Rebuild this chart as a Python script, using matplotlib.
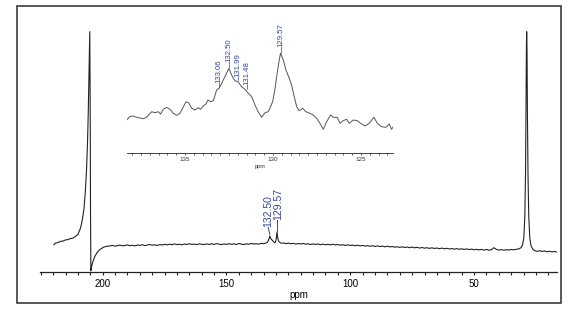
import matplotlib
matplotlib.use("Agg")
import matplotlib.pyplot as plt
from matplotlib.patches import Rectangle

plt.rcParams['font.family'] = ['Liberation Sans', 'DejaVu Sans']

# ---------------- main spectrum (ppm, intensity) ----------------
left_ppm = [219.7, 219, 218, 217, 216, 215, 214, 213, 212, 211, 210, 209.5, 209, 208.5, 208,
            207.5, 207, 206.5, 206.1, 205.8, 205.5, 205.2, 205.0, 204.9, 204.75, 204.4, 203.8,
            203.2, 202.3, 201.2, 199.8, 198.5]
left_int = [27.0, 28.6, 29.1, 30.4, 30.6, 31.8, 32.1, 33.2, 33.6, 35.2, 37.3, 40.2, 43.3, 48.2, 55.0,
            64.0, 80.0, 102.0, 130.0, 160.0, 200.0, 240.0, 150.0, 60.0, 1.0, 6.0, 11.0,
            15.0, 19.0, 22.0, 24.3, 25.4]

base1_ppm = list(range(197, 134, -1))
base1_int = [25.8, 26.3, 25.5, 26.0, 26.6, 25.9, 26.2, 26.8, 26.0, 26.4, 25.8, 26.7, 26.3, 27.0,
             26.1, 26.6, 27.2, 26.5, 26.9, 26.2, 27.1, 26.7, 27.4, 26.8, 27.5, 27.0, 27.8, 27.1,
             27.4, 26.9, 27.7, 27.2, 28.0, 27.3, 27.6, 27.0, 27.9, 27.4, 27.1, 27.8, 27.2, 27.9,
             27.3, 28.1, 27.5, 27.0, 27.8, 27.3, 28.0, 27.4, 27.9, 27.2, 28.2, 27.6, 27.1, 27.9,
             27.4, 28.3, 27.7, 28.0, 27.5, 28.4, 28.0]

arom_ppm = [134.5, 134.0, 133.5, 133.1, 132.8, 132.5, 132.2, 131.9, 131.5, 131.0, 130.6, 130.2,
            129.9, 129.57, 129.3, 129.0, 128.6, 128.2, 127.7, 127.0]
arom_int = [28.3, 28.8, 29.5, 31.0, 33.0, 35.7, 33.8, 32.5, 31.5, 30.0, 28.9, 29.6,
            33.0, 39.7, 34.0, 31.0, 29.5, 28.9, 28.5, 28.8]

base2_ppm = list(range(126, 32, -1))
base2_int = [28.0, 28.6, 27.9, 28.4, 27.6, 28.2, 27.7, 28.3, 27.5, 27.9, 27.2, 27.8, 27.3, 27.7,
             27.0, 27.6, 26.9, 27.4, 26.8, 27.5, 26.7, 27.2, 26.5, 27.0, 26.3, 26.9, 26.2, 26.6,
             25.9, 26.5, 25.8, 26.3, 25.6, 26.1, 25.4, 26.0, 25.3, 25.8, 25.1, 25.6, 24.9, 25.5,
             24.8, 25.2, 24.5, 25.0, 24.3, 24.9, 24.2, 24.7, 24.0, 24.6, 23.9, 24.4, 23.6, 24.2,
             23.5, 24.0, 23.3, 23.9, 23.2, 23.7, 23.0, 23.6, 22.9, 23.4, 22.7, 23.2, 22.5, 23.1,
             22.4, 22.9, 22.2, 22.8, 22.1, 22.6, 21.9, 22.4, 21.8, 22.3, 21.6, 22.2, 21.5, 22.0,
             24.0, 22.3, 21.6, 22.1, 21.5, 22.0, 21.7, 22.2, 21.9, 22.4]

right_ppm = [32, 31, 30.4, 29.9, 29.5, 29.2, 29.0, 28.85, 28.75, 28.6, 28.45, 28.2, 27.9, 27.5,
             27.0, 26.3, 25.5, 24.5, 23.5, 22.5, 21.5, 20.5, 19.5, 18.5, 17.5, 16.6]
right_int = [22.8, 24.0, 27.0, 34.0, 55.0, 100.0, 170.0, 225.0, 240.0, 220.0, 160.0, 95.0, 55.0, 34.0,
             26.0, 22.5, 21.0, 20.4, 21.0, 20.2, 20.8, 19.9, 20.5, 19.8, 20.3, 19.6]

main_ppm = left_ppm + base1_ppm + arom_ppm + base2_ppm + right_ppm
main_int = left_int + base1_int + arom_int + base2_int + right_int

main_ticks = [200, 150, 100, 50]
main_tick_labels = ["200", "150", "100", "50"]

# ---------------- inset spectrum ----------------
inset_ppm = [138.31, 138.13, 137.94, 137.74, 137.56, 137.37, 137.18, 136.89, 136.70, 136.52,
             136.38, 136.23, 136.04, 135.85, 135.66, 135.47, 135.28, 135.10, 134.94, 134.79,
             134.62, 134.43, 134.24, 134.11, 133.96, 133.81, 133.69, 133.54, 133.39, 133.20,
             133.06, 132.91, 132.73, 132.50, 132.35, 132.16, 131.99, 131.78, 131.59, 131.48,
             131.21, 131.02, 130.84, 130.64, 130.45, 130.27, 130.17, 130.02, 129.89, 129.76,
             129.64, 129.57, 129.41, 129.26, 129.07, 128.94, 128.79, 128.65, 128.51, 128.31,
             128.13, 127.90, 127.71, 127.52, 127.33, 127.14, 126.95, 126.72, 126.57, 126.35,
             126.19, 126.01, 125.81, 125.66, 125.44, 125.21, 125.02, 124.77, 124.53, 124.26,
             124.07, 123.82, 123.58, 123.39, 123.26, 123.16]
inset_int = [33.0, 36.3, 37.0, 35.7, 35.0, 34.3, 35.7, 41.3, 40.3, 41.3,
             39.0, 43.7, 45.7, 43.7, 39.7, 37.7, 39.7, 45.7, 51.3, 50.3,
             44.7, 43.0, 45.3, 43.7, 47.0, 49.0, 53.0, 51.3, 52.3, 63.0,
             64.7, 69.7, 76.3, 84.7, 78.0, 72.3, 71.3, 66.3, 63.7, 61.3,
             56.3, 48.0, 41.3, 35.7, 40.3, 41.3, 44.7, 51.3, 63.0, 79.7,
             93.0, 99.7, 93.0, 83.0, 74.7, 68.0, 56.3, 46.3, 42.3, 44.7,
             41.3, 39.7, 38.0, 34.7, 29.7, 23.7, 31.3, 38.0, 35.7, 35.7,
             29.7, 32.3, 33.7, 29.7, 33.0, 32.3, 29.7, 27.0, 29.7, 35.7,
             29.7, 26.3, 25.7, 29.0, 23.7, 26.3]

inset_ticks = [135, 130, 125]
inset_tick_labels = ["135", "130", "125"]

# peak labels in inset
inset_lbl_ppm = [133.06, 132.50, 131.99, 131.48, 129.57]
inset_lbl_txt = ["133.06", "132.50", "131.99", "131.48", "129.57"]
inset_lbl_curve = [66.0, 86.0, 73.0, 63.7, 100.5]
inset_lbl_text = [70.0, 91.0, 76.3, 68.0, 106.0]

W, H = 580, 309
fig = plt.figure(figsize=(W / 100, H / 100), dpi=100)
fig.patch.set_facecolor('white')

def fx(px):
    return px / W

def fy(py):
    return (H - py) / H

# outer frame
fig.patches.append(Rectangle((fx(17), fy(303)), fx(561) - fx(17), fy(6) - fy(303),
                             transform=fig.transFigure, fill=False, edgecolor='#2a2a2a',
                             linewidth=1.1, zorder=0))

blue = '#3545a0'

# main axes
ax = fig.add_axes([fx(40), fy(271.7), fx(557) - fx(40), fy(25) - fy(271.7)])
ax.plot(main_ppm, main_int, color='#222222', lw=0.8)
ax.set_xlim(225.3, 16.5)
ax.set_ylim(0, 246.7)
for s in ['left', 'right', 'top']:
    ax.spines[s].set_visible(False)
ax.spines['bottom'].set_linewidth(0.9)
ax.spines['bottom'].set_color('#222222')
ax.set_yticks([])
ax.set_xticks(main_ticks)
ax.set_xticklabels(main_tick_labels, fontsize=7)
ax.set_xticks(list(range(20, 226, 5)), minor=True)
ax.tick_params(axis='x', which='both', direction='out', length=2.4, width=0.8,
               color='#222222', pad=2.5)
ax.set_xlabel('ppm', fontsize=7, labelpad=1)
ax.patch.set_alpha(0)

# main annotations
ax.plot([132.5, 132.9, 133.2], [37.5, 42.0, 44.5], color=blue, lw=0.7, clip_on=False)
ax.text(133.2, 44.5, '132.50', rotation=90, ha='center', va='bottom', fontsize=7.5,
        color=blue)
ax.plot([129.45, 129.45], [41.0, 51.7], color=blue, lw=0.7, clip_on=False)
ax.text(128.9, 51.7, '129.57', rotation=90, ha='center', va='bottom', fontsize=7.5,
        color=blue)

# inset axes
ai = fig.add_axes([fx(126.7), fy(153), fx(393.3) - fx(126.7), fy(45) - fy(153)])
ai.plot(inset_ppm, inset_int, color='#555555', lw=0.7)
ai.set_xlim(138.31, 123.16)
ai.set_ylim(0, 108)
for s in ['left', 'right', 'top']:
    ai.spines[s].set_visible(False)
ai.spines['bottom'].set_linewidth(0.7)
ai.spines['bottom'].set_color('#444444')
ai.set_yticks([])
ai.set_xticks(inset_ticks)
ai.set_xticklabels(inset_tick_labels, fontsize=4.5, color='#333333')
ai.set_xticks([123.5 + 0.5 * i for i in range(30)], minor=True)
ai.tick_params(axis='x', which='both', direction='out', length=1.6, width=0.6,
               color='#444444', pad=1.5)
ai.set_xlabel('ppm', fontsize=4, labelpad=1, color='#333333')
ai.patch.set_alpha(0)

for p, t, c, tb in zip(inset_lbl_ppm, inset_lbl_txt, inset_lbl_curve, inset_lbl_text):
    ai.plot([p, p], [c, tb], color=blue, lw=0.5, clip_on=False)
    ai.text(p, tb, t, rotation=90, ha='center', va='bottom', fontsize=5.6, color=blue,
            clip_on=False)

fig.savefig('out.png', dpi=100)
